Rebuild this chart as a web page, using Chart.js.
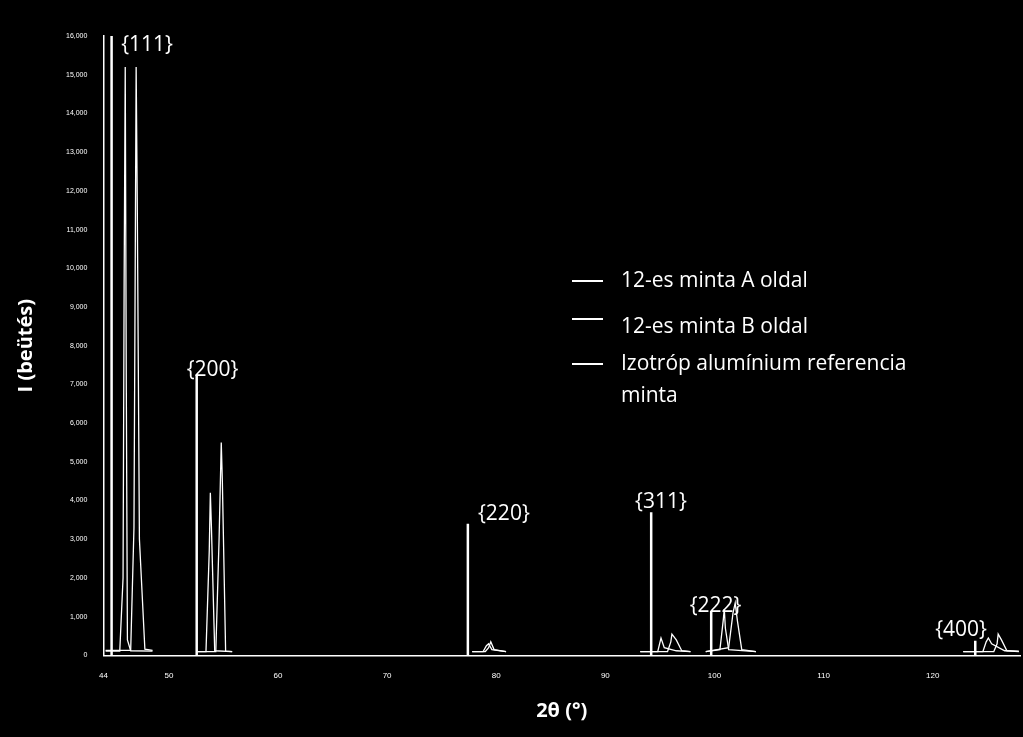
<!DOCTYPE html>
<html><head><meta charset="utf-8">
<script src="https://cdn.jsdelivr.net/npm/chart.js@4"></script>
<style>html,body{margin:0;background:#000;}#wrap{width:1023px;height:737px;}</style>
</head><body><div id="wrap"><canvas id="c"></canvas></div>
<script>
// 2θ / intensity for each pattern (null = gap between measured windows)
const angleA = [44.2,45.5,45.8,45.9,46.0,46.1,46.2,46.5,48.5,null,52.6,53.4,53.7,53.8,53.9,54.2,55.8,null,77.8,78.8,79.1,79.3,79.6,80.9,null,93.2,94.8,95.1,95.4,96.5,97.8,null,99.2,100.5,100.8,100.9,101.0,101.3,103.8,null,122.8,124.6,124.9,125.1,125.4,126.6,127.9];
const countA = [110,110,2000,9700,15200,6800,400,120,110,null,100,100,2700,4200,3300,120,100,null,100,100,250,300,150,100,null,100,100,450,200,120,100,null,100,150,900,1200,700,150,100,null,100,100,350,450,300,120,110];
const angleB = [44.2,46.5,46.8,46.9,47.0,47.1,47.3,47.8,48.5,null,52.6,54.3,54.6,54.8,54.9,55.2,55.8,null,77.8,79.0,79.3,79.5,79.8,80.9,null,93.2,95.7,96.0,96.1,96.5,97.0,97.8,null,99.2,101.3,101.7,101.9,102.1,102.5,103.8,null,122.8,125.6,125.9,126.0,126.3,126.8,127.9];
const countB = [130,130,3300,9200,15200,11800,3000,160,130,null,100,100,3000,5500,4500,110,100,null,100,100,200,350,150,100,null,100,100,350,550,400,120,100,null,100,200,1100,1350,900,150,100,null,100,100,300,550,400,120,100];
const angleRef = [44.75,44.75,44.75,null,52.55,52.55,52.55,null,77.4,77.4,77.4,null,94.2,94.2,94.2,null,99.7,99.7,99.7,null,123.9,123.9,123.9];
const countRef = [0,17000,0,null,0,7250,0,null,0,3400,0,null,0,3700,0,null,0,1150,0,null,0,380,0];
const legendNames = ['12-es minta A oldal','12-es minta B oldal','Izotróp alumínium referencia','minta'];
const hklLabels = ['{111}','{200}','{220}','{311}','{222}','{400}'];
const hklPos = [[48.0,15700],[54.0,7300],[80.7,3600],[95.1,3900],[100.1,1200],[122.6,600]];
const yTicks = [0,1000,2000,3000,4000,5000,6000,7000,8000,9000,10000,11000,12000,13000,14000,15000,16000];
const xTicks = [44,50,60,70,80,90,100,110,120];

const pts = (xs, ys) => xs.map((x, i) => x === null ? {x: NaN, y: NaN} : {x: x, y: ys[i]});

const overlay = {
  id: 'overlay',
  afterDraw(chart) {
    const ctx = chart.ctx, xs = chart.scales.x, ys = chart.scales.y;
    ctx.save();
    ctx.fillStyle = '#fff';
    ctx.font = '21px "Open Sans", Calibri, sans-serif';
    ctx.textAlign = 'center';
    ctx.textBaseline = 'bottom';
    hklLabels.forEach((t, i) => ctx.fillText(t, xs.getPixelForValue(hklPos[i][0]), ys.getPixelForValue(hklPos[i][1]) + 8));
    ctx.textAlign = 'left';
    ctx.textBaseline = 'middle';
    const ly = [281, 327, 364, 396];
    ctx.strokeStyle = '#fff';
    ctx.lineWidth = 2;
    [0, 1, 2].forEach(i => {
      ctx.beginPath();
      ctx.moveTo(572, ly[i] - (i === 1 ? 8 : 0));
      ctx.lineTo(603, ly[i] - (i === 1 ? 8 : 0));
      ctx.stroke();
    });
    legendNames.forEach((t, i) => ctx.fillText(t, 621, ly[i]));
    ctx.restore();
  }
};

new Chart(document.getElementById('c'), {
  type: 'scatter',
  data: {
    datasets: [
      {label: legendNames[0], data: pts(angleA, countA), showLine: true, borderColor: '#fff', borderWidth: 1.3, pointRadius: 0, spanGaps: false},
      {label: legendNames[1], data: pts(angleB, countB), showLine: true, borderColor: '#fff', borderWidth: 1.3, pointRadius: 0, spanGaps: false},
      {label: legendNames[2], data: pts(angleRef, countRef), showLine: true, borderColor: '#fff', borderWidth: 2.5, pointRadius: 0, spanGaps: false}
    ]
  },
  options: {
    responsive: true, maintainAspectRatio: false, animation: false,
    layout: {padding: {top: 36, right: 3, left: 10, bottom: 10}},
    plugins: {legend: {display: false}, tooltip: {enabled: false}},
    scales: {
      x: {
        type: 'linear', min: 44, max: 128,
        afterBuildTicks: s => { s.ticks = xTicks.map(v => ({value: v})); },
        grid: {display: false, drawTicks: true},
        border: {color: '#fff', width: 1.5},
        ticks: {color: '#fff', font: {size: 8}, padding: 8},
        title: {display: true, text: '2θ (°)', color: '#fff', font: {size: 20, weight: 'bold', family: 'Open Sans'}, padding: {top: 10}}
      },
      y: {
        min: 0, max: 16000,
        afterBuildTicks: s => { s.ticks = yTicks.map(v => ({value: v})); },
        grid: {display: false},
        border: {color: '#fff', width: 1.5},
        ticks: {color: '#fff', font: {size: 7}, padding: 8},
        title: {display: true, text: 'I (beütés)', color: '#fff', font: {size: 20, weight: 'bold', family: 'Open Sans'}, padding: {bottom: 20}}
      }
    }
  },
  plugins: [overlay]
});
</script></body></html>
